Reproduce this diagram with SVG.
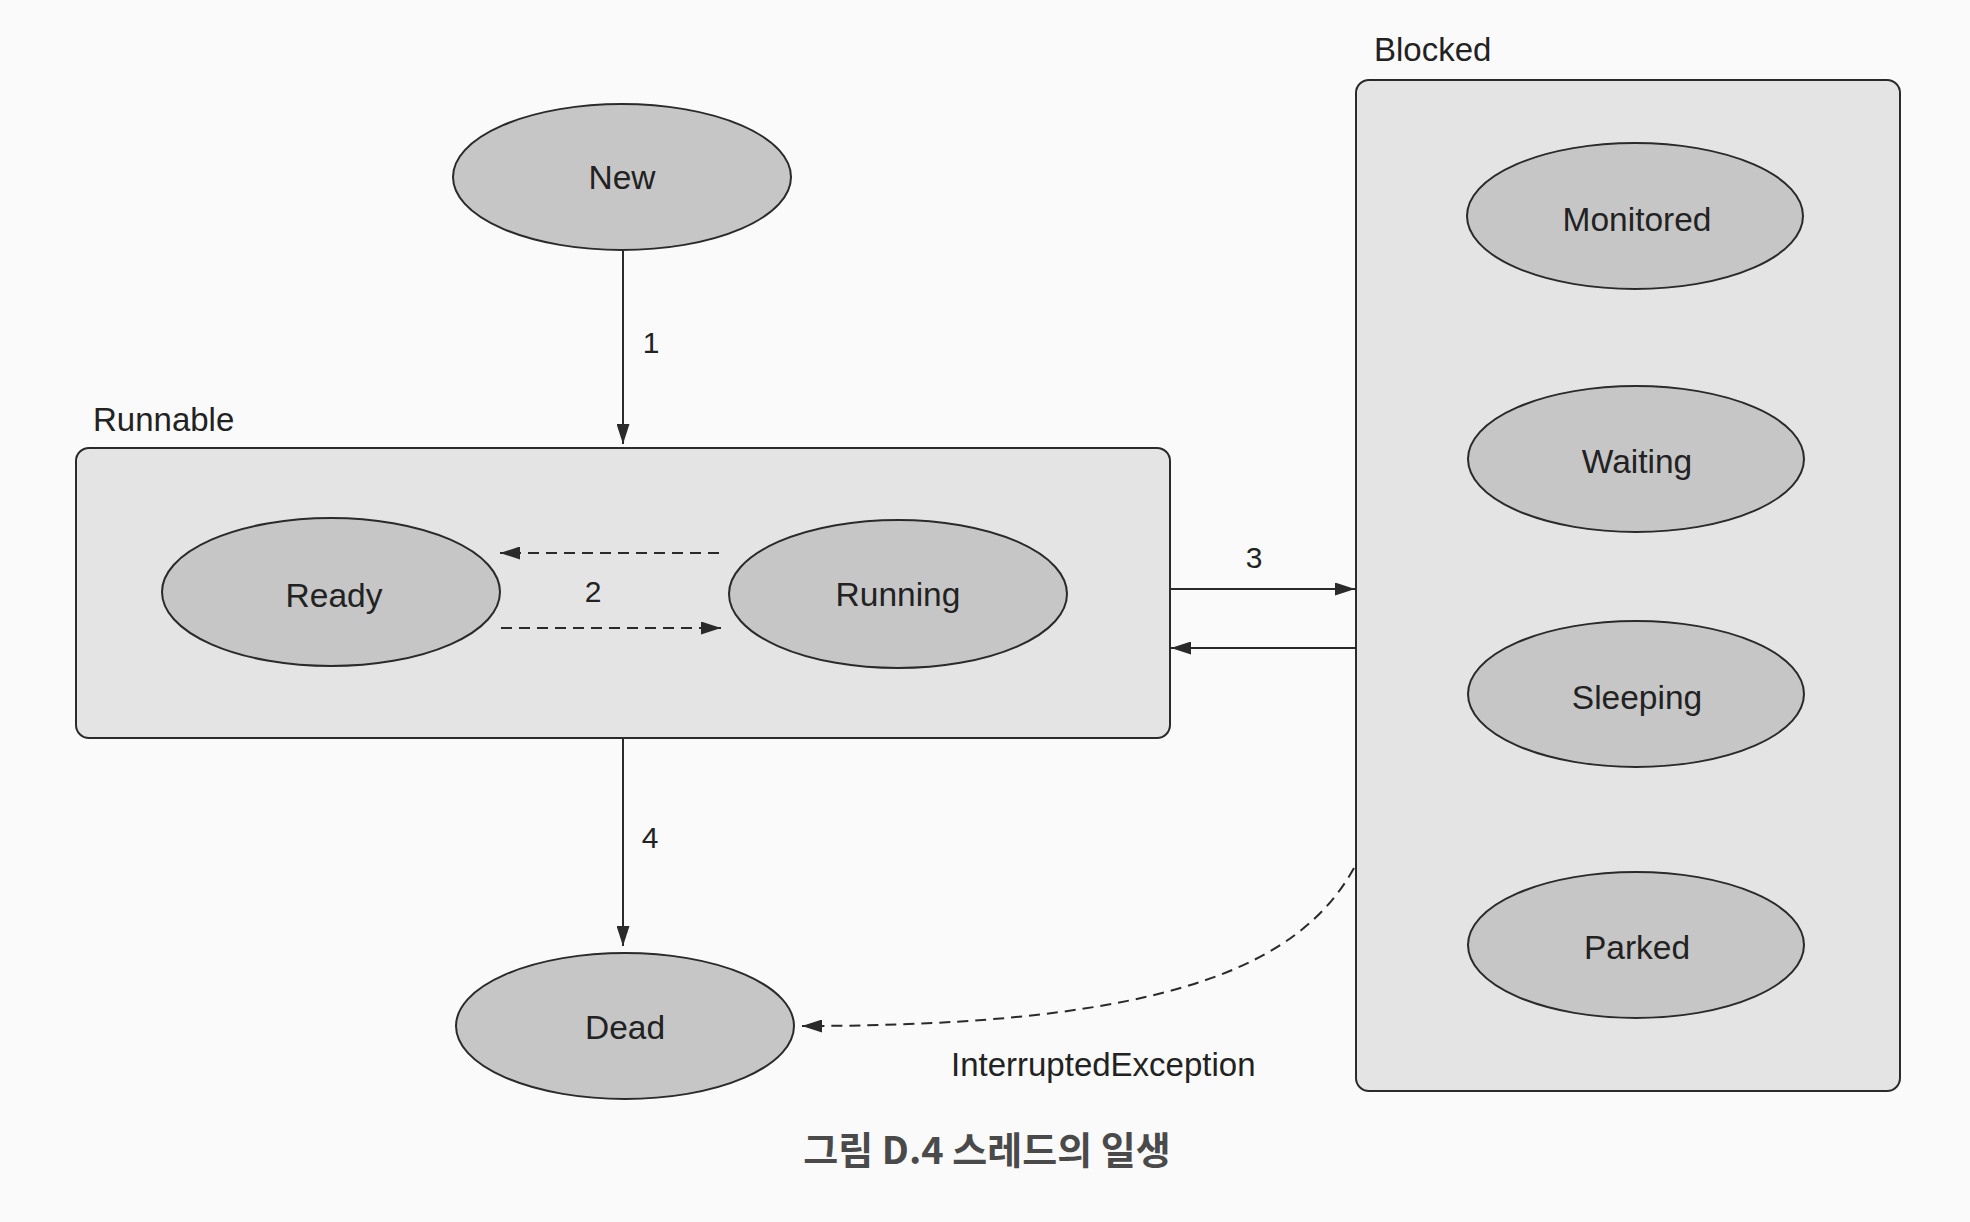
<svg xmlns="http://www.w3.org/2000/svg" width="1970" height="1222" viewBox="0 0 1970 1222">
<defs>
<style>
.bg{fill:#fafafa}
.box{fill:#e4e4e4;stroke:#2a2a2a;stroke-width:2}
.st{fill:#c6c6c6;stroke:#2a2a2a;stroke-width:2}
.lbl{font-family:"Liberation Sans",Arial,sans-serif;font-size:33.5px;fill:#222;text-anchor:middle}
.grp{font-family:"Liberation Sans",Arial,sans-serif;font-size:33px;fill:#222}
.num{font-family:"Liberation Sans",Arial,sans-serif;font-size:30px;fill:#222;text-anchor:middle}
.cap{font-family:"Noto Sans CJK KR","Noto Sans",sans-serif;font-size:38px;font-weight:700;fill:#4a4a4a;text-anchor:middle}
.ln{fill:none;stroke:#2a2a2a;stroke-width:2}
.dash{fill:none;stroke:#2a2a2a;stroke-width:2;stroke-dasharray:11 7}
</style>
<marker id="ah" viewBox="0 0 20 13" refX="20" refY="6.5" markerWidth="20" markerHeight="13" markerUnits="userSpaceOnUse" orient="auto">
<path d="M0,0 L20,6.5 L0,13 Z" fill="#2a2a2a"/>
</marker>
</defs>
<rect class="bg" x="0" y="0" width="1970" height="1222"/>

<g id="runnable">
<rect class="box" x="76" y="448" width="1094" height="290" rx="13"/>
<text class="grp" x="93" y="431">Runnable</text>
</g>
<g id="blocked">
<rect class="box" x="1356" y="80" width="544" height="1011" rx="13"/>
<text class="grp" x="1374" y="61">Blocked</text>
</g>

<g id="new"><ellipse class="st" cx="622" cy="177" rx="169" ry="73"/><text class="lbl" x="622" y="189">New</text></g>
<g id="ready"><ellipse class="st" cx="331" cy="592" rx="169" ry="74"/><text class="lbl" x="334" y="607">Ready</text></g>
<g id="running"><ellipse class="st" cx="898" cy="594" rx="169" ry="74"/><text class="lbl" x="898" y="606">Running</text></g>
<g id="dead"><ellipse class="st" cx="625" cy="1026" rx="169" ry="73"/><text class="lbl" x="625" y="1039">Dead</text></g>
<g id="monitored"><ellipse class="st" cx="1635" cy="216" rx="168" ry="73"/><text class="lbl" x="1637" y="231">Monitored</text></g>
<g id="waiting"><ellipse class="st" cx="1636" cy="459" rx="168" ry="73"/><text class="lbl" x="1637" y="473">Waiting</text></g>
<g id="sleeping"><ellipse class="st" cx="1636" cy="694" rx="168" ry="73"/><text class="lbl" x="1637" y="709">Sleeping</text></g>
<g id="parked"><ellipse class="st" cx="1636" cy="945" rx="168" ry="73"/><text class="lbl" x="1637" y="959">Parked</text></g>

<g id="connectors">
<line class="ln" x1="623" y1="251" x2="623" y2="444" marker-end="url(#ah)"/>
<text class="num" x="651" y="353">1</text>
<line class="dash" x1="719" y1="553" x2="500" y2="553" marker-end="url(#ah)"/>
<line class="dash" x1="501" y1="628" x2="721" y2="628" marker-end="url(#ah)"/>
<text class="num" x="593" y="602">2</text>
<line class="ln" x1="1170" y1="589" x2="1355" y2="589" marker-end="url(#ah)"/>
<text class="num" x="1254" y="568">3</text>
<line class="ln" x1="1355" y1="648" x2="1171" y2="648" marker-end="url(#ah)"/>
<line class="ln" x1="623" y1="738" x2="623" y2="946" marker-end="url(#ah)"/>
<text class="num" x="650" y="848">4</text>
<path class="dash" d="M1354,868 C1300,965 1170,1026 802,1026" marker-end="url(#ah)"/>
<text class="grp" x="951" y="1076">InterruptedException</text>
</g>

<text class="cap" x="987" y="1164">그림 D.4 스레드의 일생</text>
</svg>
